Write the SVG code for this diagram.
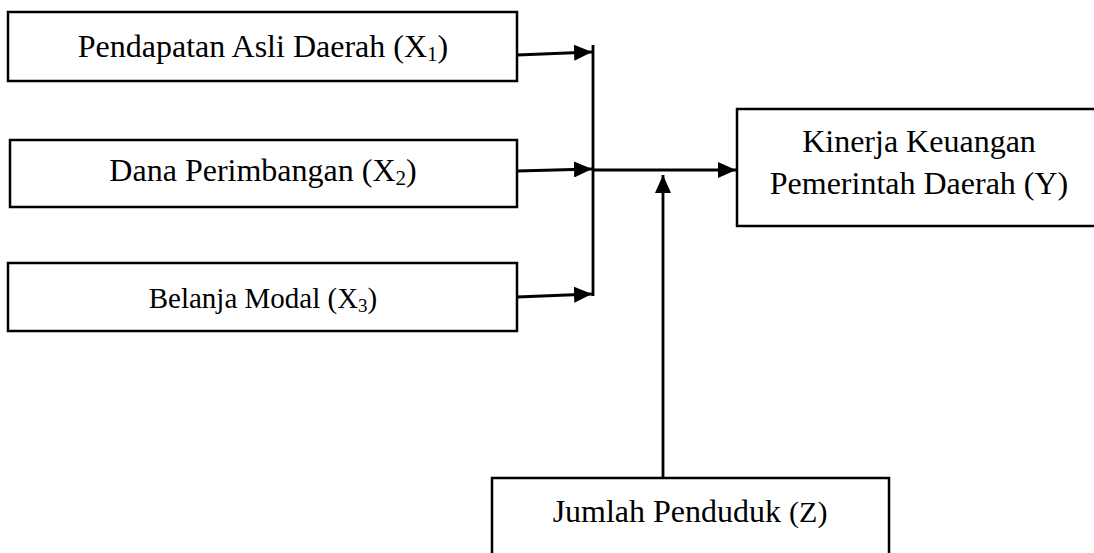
<svg xmlns="http://www.w3.org/2000/svg" width="1094" height="553" viewBox="0 0 1094 553">
<style>
.box{fill:#fff;stroke:#000;stroke-width:2.5}
.t{font-family:"Liberation Serif","Times New Roman",serif;font-size:32px;fill:#000;text-anchor:middle}
.s{font-size:21px}
.c{stroke:#000;stroke-width:2.8;fill:none}
</style>
<defs>
<marker id="ah" markerUnits="userSpaceOnUse" markerWidth="20" markerHeight="16" refX="18" refY="8" orient="auto">
<path d="M0,0 L18,8 L0,16 Z" fill="#000"/>
</marker>
</defs>
<rect width="1094" height="553" fill="#fff"/>
<g id="x1">
<rect class="box" x="8" y="12" width="509" height="69"/>
<text class="t" x="263" y="57">Pendapatan Asli Daerah (X<tspan class="s" dy="4">1</tspan><tspan dy="-4">)</tspan></text>
</g>
<g id="x2">
<rect class="box" x="10" y="140" width="507" height="67"/>
<text class="t" x="263" y="181">Dana Perimbangan (X<tspan class="s" dy="4">2</tspan><tspan dy="-4">)</tspan></text>
</g>
<g id="x3">
<rect class="box" x="8" y="263" width="509" height="68"/>
<text class="t" x="263" y="308" style="font-size:29px">Belanja Modal (X<tspan style="font-size:19px" dy="4">3</tspan><tspan dy="-4">)</tspan></text>
</g>
<g id="y">
<rect class="box" x="737" y="109" width="400" height="117"/>
<text class="t" x="919" y="152">Kinerja Keuangan</text>
<text class="t" x="919" y="194">Pemerintah Daerah (Y)</text>
</g>
<g id="z">
<rect class="box" x="492" y="478" width="397" height="100"/>
<text class="t" x="690" y="522">Jumlah Penduduk <tspan style="font-size:30px">(Z)</tspan></text>
</g>
<g id="connectors">
<line class="c" x1="593" y1="45" x2="593" y2="296"/>
<line class="c" x1="517" y1="55" x2="592" y2="52" marker-end="url(#ah)"/>
<line class="c" x1="517" y1="171" x2="592" y2="169" marker-end="url(#ah)"/>
<line class="c" x1="517" y1="297" x2="592" y2="294" marker-end="url(#ah)"/>
<line class="c" x1="593" y1="170" x2="736" y2="170" marker-end="url(#ah)"/>
<line class="c" x1="663" y1="478" x2="663" y2="175" marker-end="url(#ah)"/>
</g>
</svg>
